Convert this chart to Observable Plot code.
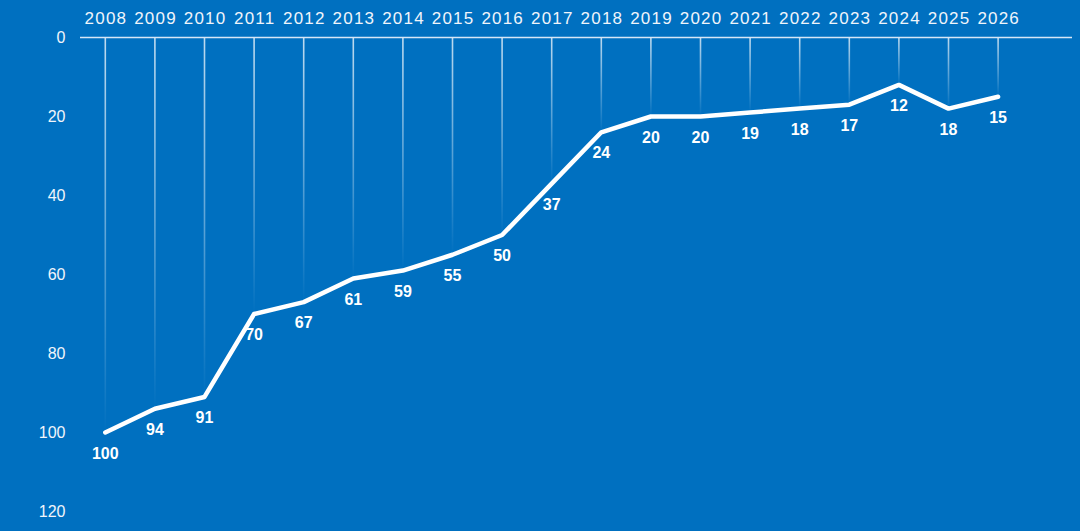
<!DOCTYPE html>
<html>
<head>
<meta charset="utf-8">
<script src="https://cdn.jsdelivr.net/npm/d3@7"></script>
<script src="https://cdn.jsdelivr.net/npm/@observablehq/plot@0.6"></script>
<style>
  html, body { margin: 0; padding: 0; background: #0070C0; }
  #chart { width: 1080px; height: 531px; }
  g[aria-label="x-axis tick label"] text { letter-spacing: 1.2px; }
</style>
</head>
<body>
<div id="chart"></div>
<script>
const years = [2008, 2009, 2010, 2011, 2012, 2013, 2014, 2015, 2016, 2017, 2018, 2019, 2020, 2021, 2022, 2023, 2024, 2025, 2026];
const values = [100, 94, 91, 70, 67, 61, 59, 55, 50, 37, 24, 20, 20, 19, 18, 17, 12, 18, 15];
const yTicks = [0, 20, 40, 60, 80, 100, 120];

const data = years.map((year, i) => ({ year, value: values[i] }));

let gradId = 0;
function fadeRules(index, scales, values, dimensions, context, next) {
  const g = next(index, scales, values, dimensions, context);
  const svg = context.ownerSVGElement;
  let defs = svg.querySelector("defs");
  if (!defs) { defs = document.createElementNS("http://www.w3.org/2000/svg", "defs"); svg.insertBefore(defs, svg.firstChild); }
  g.querySelectorAll("line").forEach(line => {
    const id = "fade" + (gradId++);
    const y1 = line.getAttribute("y1"), y2 = line.getAttribute("y2");
    const lg = document.createElementNS("http://www.w3.org/2000/svg", "linearGradient");
    lg.setAttribute("id", id);
    lg.setAttribute("gradientUnits", "userSpaceOnUse");
    lg.setAttribute("x1", 0); lg.setAttribute("x2", 0);
    lg.setAttribute("y1", y1); lg.setAttribute("y2", y2);
    lg.innerHTML = '<stop offset="0" stop-color="#ffffff" stop-opacity="0.75"/><stop offset="1" stop-color="#ffffff" stop-opacity="0"/>';
    defs.appendChild(lg);
    line.setAttribute("stroke", `url(#${id})`);
  });
  return g;
}

const chart = Plot.plot({
  width: 1080,
  height: 531,
  marginLeft: 80,
  marginRight: 8,
  marginTop: 37,
  marginBottom: 20,
  style: { background: "#0070C0", fontFamily: "Liberation Sans, Arial, sans-serif", overflow: "visible" },
  x: { domain: [2007.5, 2027.5], axis: null },
  y: { domain: [0, 120], reverse: true, axis: null },
  marks: [
    Plot.ruleX(data, { x: "year", y1: 0, y2: "value", stroke: "white", strokeWidth: 1.6, render: fadeRules }),
    Plot.ruleY([0], { stroke: "#d6e6f6", strokeWidth: 1.5 }),
    Plot.axisX(years, { anchor: "top", label: null, tickSize: 0, tickPadding: 14, dx: 0.6, tickFormat: d => String(d), fill: "#f0f5fb", fontSize: 17 }),
    Plot.axisY(yTicks, { anchor: "left", label: null, tickSize: 0, tickPadding: 15, fill: "#f0f5fb", fontSize: 16 }),
    Plot.line(data, { x: "year", y: "value", stroke: "white", strokeWidth: 4.5, strokeLinejoin: "round", strokeLinecap: "round" }),
    Plot.text(data, { x: "year", y: "value", text: d => String(d.value), dy: 21, fill: "white", fontSize: 16, fontWeight: "bold" })
  ]
});
document.getElementById("chart").appendChild(chart);
</script>
</body>
</html>
